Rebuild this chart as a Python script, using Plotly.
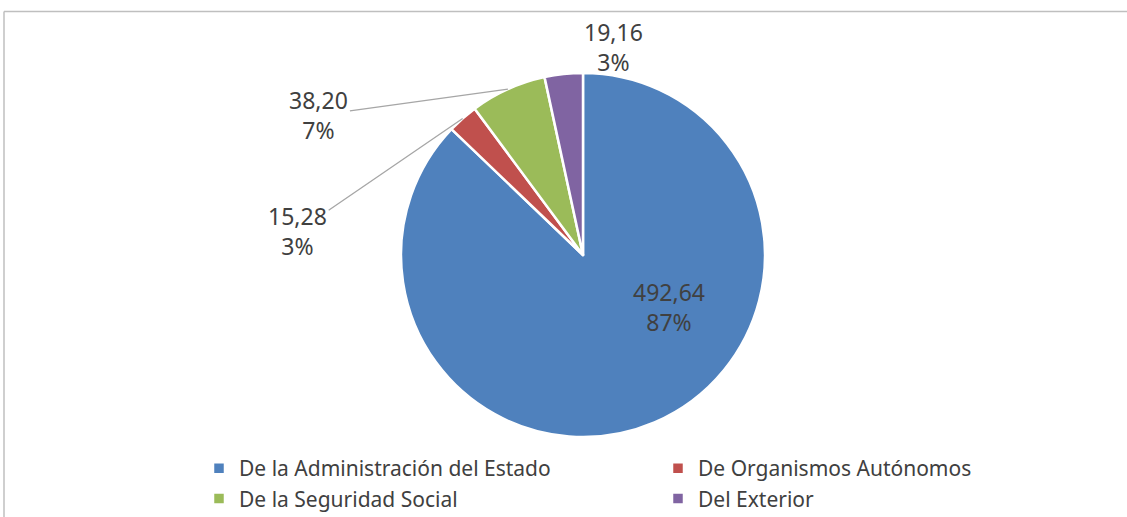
import math
import plotly.graph_objects as go

labels = ["De la Administración del Estado", "De Organismos Autónomos",
          "De la Seguridad Social", "Del Exterior"]
values = [492.64, 15.28, 38.20, 19.16]
colors = ["#4F81BD", "#C0504D", "#9BBB59", "#8064A2"]

W, H = 1127, 517
cx, cy, R = 583, 255, 182  # pie centre and radius in pixels

# label offsets (pixels, relative to slice edge point) and whether a leader line is drawn
label_offsets = [None, (-165, 113), (-189, 26), (50, -27)]
leader = [False, True, True, False]

total = sum(values)
fmt = lambda v: f"{v:.2f}".replace(".", ",")

fig = go.Figure(go.Pie(
    labels=labels, values=values, sort=False, direction="clockwise", rotation=0,
    marker=dict(colors=colors, line=dict(color="white", width=2.5)),
    textinfo="none", hoverinfo="label+value+percent",
    domain=dict(x=[(cx - R) / W, (cx + R) / W], y=[(H - cy - R) / H, (H - cy + R) / H]),
))

annotations = []
cum = 0.0
for i, v in enumerate(values):
    frac = v / total
    mid = (cum + frac / 2) * 2 * math.pi
    cum += frac
    text = f"{fmt(v)}<br>{round(frac * 100):d}%"
    if label_offsets[i] is None:
        # inside label of the big slice
        px, py = cx + 0.47 * R * math.sin(mid) + 52, cy - 0.47 * R * math.cos(mid) - 27
        annotations.append(dict(x=px / W, y=1 - py / H, xref="paper", yref="paper",
                                text=text, showarrow=False))
    else:
        px, py = cx + R * math.sin(mid), cy - R * math.cos(mid)
        ax, ay = label_offsets[i]
        annotations.append(dict(x=px / W, y=1 - py / H, xref="paper", yref="paper",
                                text=text, showarrow=True, arrowhead=0,
                                arrowwidth=1.3,
                                arrowcolor="#A6A6A6" if leader[i] else "rgba(0,0,0,0)",
                                ax=ax, ay=ay, standoff=0))

fig.update_layout(
    width=W, height=H, margin=dict(l=0, r=0, t=0, b=0, autoexpand=False),
    paper_bgcolor="white", plot_bgcolor="white",
    font=dict(family="Noto Sans", size=23, color="#404040"),
    annotations=annotations,
    showlegend=True,
    legend=dict(orientation="h", x=199 / W, xanchor="left", y=1 - 448 / H, yanchor="top",
                entrywidth=414, entrywidthmode="pixels", traceorder="normal",
                font=dict(size=21, color="#404040"), bgcolor="rgba(0,0,0,0)"),
    shapes=[
        dict(type="line", xref="paper", yref="paper", x0=4 / W, x1=1, y0=1 - 11.5 / H, y1=1 - 11.5 / H,
             line=dict(color="#BFBFBF", width=1.5)),
        dict(type="line", xref="paper", yref="paper", x0=4 / W, x1=4 / W, y0=0, y1=1 - 11.5 / H,
             line=dict(color="#BFBFBF", width=1.5)),
    ],
)

fig.write_html("out.html", config={"displayModeBar": False},
               post_script="document.body.style.margin='0';document.body.style.overflow='hidden';")
